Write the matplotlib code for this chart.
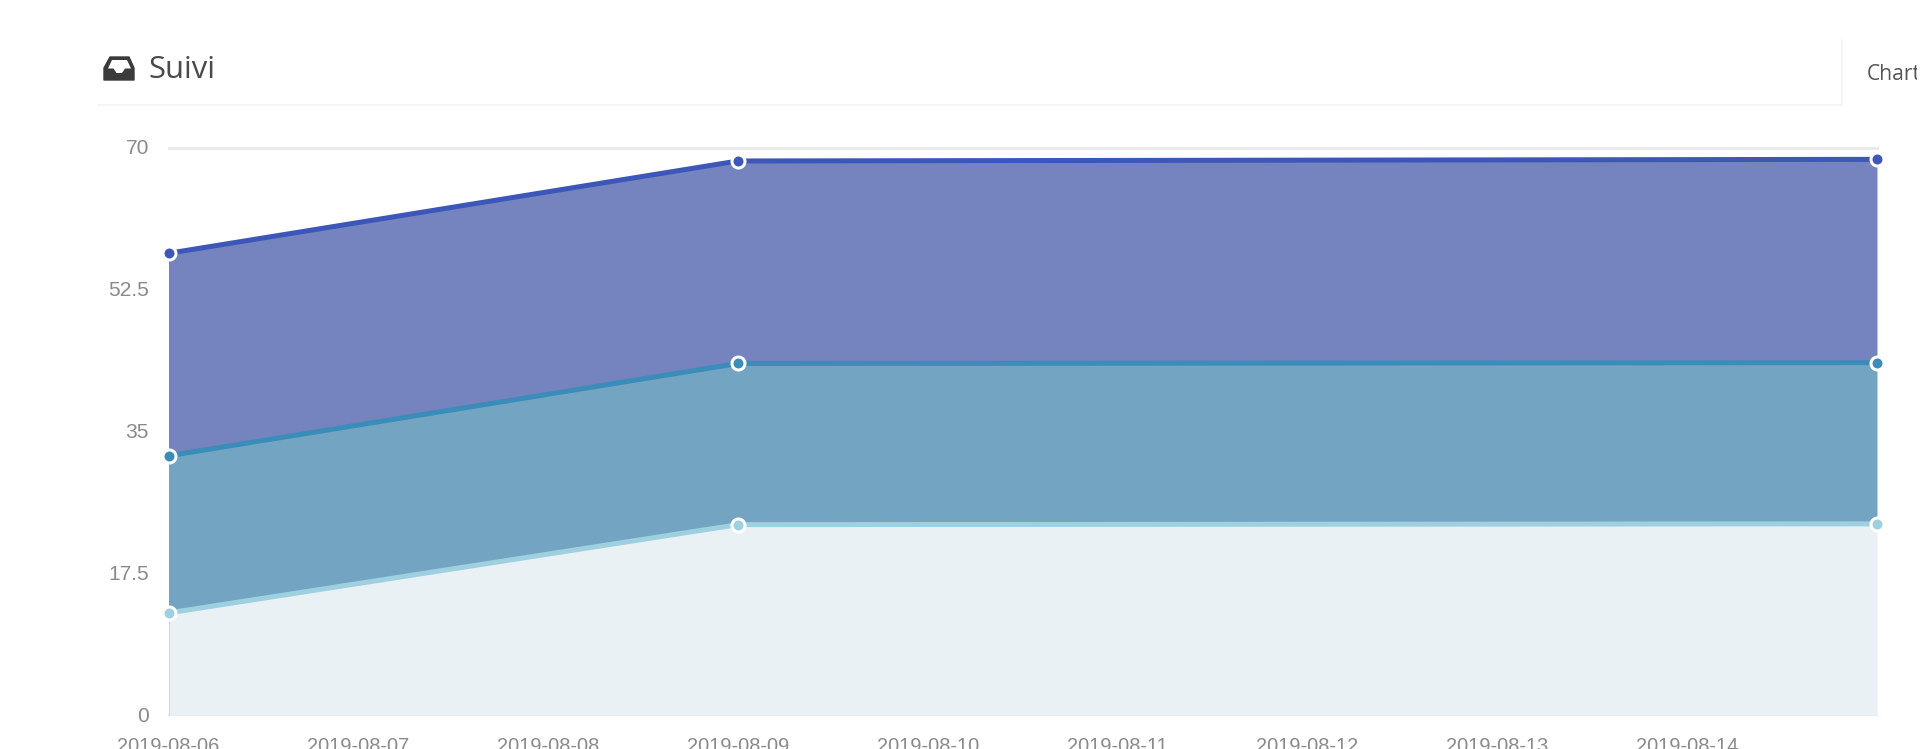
import matplotlib
matplotlib.use('Agg')
import matplotlib.pyplot as plt
from matplotlib.patches import Polygon, Rectangle
from matplotlib.transforms import ScaledTranslation
import pandas as pd

# data
point_dates = ['2019-08-06', '2019-08-09', '2019-08-15']
haut = [57.0, 68.4, 68.6]
milieu = [32.0, 43.4, 43.5]
bas = [12.6, 23.5, 23.6]

tick_dates = ['2019-08-06', '2019-08-07', '2019-08-08', '2019-08-09', '2019-08-10',
              '2019-08-11', '2019-08-12', '2019-08-13', '2019-08-14']
y_ticks = [0, 17.5, 35, 52.5, 70]
y_labels = ['0', '17.5', '35', '52.5', '70']

W, H = 1930, 749
px = 0.72  # 1 px in points at dpi 100

plt.rcParams['font.family'] = ['Liberation Sans', 'DejaVu Sans']

fig = plt.figure(figsize=(W / 100, H / 100), dpi=100)
fig.patch.set_facecolor('white')

# page layer in pixel coordinates (header, icon)
bg = fig.add_axes([0, 0, 1, 1])
bg.set_xlim(0, W)
bg.set_ylim(H, 0)
bg.axis('off')

bg.plot([98, 1842], [105, 105], color='#f3f3f3', lw=1.5 * px)
bg.plot([1842, 1842], [40, 105], color='#f3f3f3', lw=1.5 * px)

# inbox icon
bg.add_patch(Polygon([(104, 80), (104, 68), (110, 57), (129, 57), (134, 68), (134, 80)],
                     closed=True, fc='#3b3b3b', ec='#3b3b3b', lw=1, joinstyle='round'))
bg.add_patch(Polygon([(112, 60), (127, 60), (131, 68.5), (125, 68.5), (122, 73),
                      (116.5, 73), (113.5, 68.5), (108, 68.5)],
                     closed=True, fc='white', ec='none'))

bg.text(148, 70.5, 'Suivi', fontsize=31 * px, color='#4a4a4a', family='Open Sans',
        ha='left', va='center')
t = bg.text(1867, 75, 'Chart', fontsize=21 * px, color='#555555', family='Open Sans',
            ha='left', va='center')
t.set_clip_path(Rectangle((1860, 40), 57, 60, transform=bg.transData))
t.set_clip_on(True)

# chart
x0, x1, y0, y1 = 168.5, 1877, 715, 148
ax = fig.add_axes([x0 / W, 1 - y0 / H, (x1 - x0) / W, (y0 - y1) / H])
ax.patch.set_alpha(0)

dates = pd.to_datetime(point_dates)
ax.set_xlim(pd.Timestamp('2019-08-06'), pd.Timestamp('2019-08-15'))
ax.set_ylim(0, 70)

ax.axhline(70, color='#eaeaea', lw=3 * px, zorder=1, clip_on=False)
ax.axhline(0, color='#e4e6e8', lw=2 * px, zorder=1, clip_on=False)
# pale edge of the lowest area on the left
ax.vlines(dates[0], 0, bas[0], color='#c9d8ea', lw=2 * px, zorder=5)

# bands, so the upper colours do not bleed along the bottom and right edges
ax.fill_between(dates, milieu, haut, color='#7584be', lw=0, zorder=2)
ax.fill_between(dates, bas, milieu, color='#73a4c2', lw=0, zorder=2)
ax.fill_between(dates, 0, bas, color='#e9f1f5', lw=0, zorder=2)

lines = [(haut, '#3c57b9'), (milieu, '#3a8cb9'), (bas, '#9fd0e0')]
for vals, line in lines:
    ax.plot(dates, vals, color=line, lw=5 * px, zorder=6, solid_capstyle='butt', clip_on=False)
    ax.plot(dates, vals, 'o', ms=13 * px, mfc=line, mec='white', mew=3 * px, zorder=7, clip_on=False)

for s in ax.spines.values():
    s.set_visible(False)

ax.set_yticks(y_ticks)
ax.set_yticklabels(y_labels)
ax.set_xticks(pd.to_datetime(tick_dates))
ax.set_xticklabels(tick_dates)
ax.tick_params(axis='y', length=0, pad=14, labelsize=21 * px, labelcolor='#8a8a8a')
ax.tick_params(axis='x', length=0, pad=16, labelsize=20 * px, labelcolor='#8a8a8a')

# y labels sit 1 px higher in the reference
up = ScaledTranslation(0, 1 / 100, fig.dpi_scale_trans)
for lab in ax.get_yticklabels():
    lab.set_transform(lab.get_transform() + up)

fig.savefig('out.png', dpi=100)
